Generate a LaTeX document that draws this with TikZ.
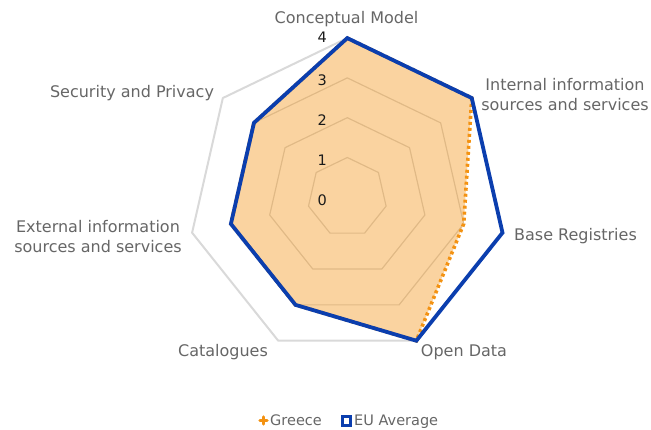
\documentclass[tikz,border=0pt]{standalone}
\usepackage{fontspec}
\setmainfont{DejaVu Sans}
\definecolor{catgray}{HTML}{666666}
\definecolor{tickc}{HTML}{1A1A1A}
\definecolor{gridc}{HTML}{D9D9D9}
\definecolor{gridin}{HTML}{D4D4D4}
\definecolor{eublue}{HTML}{0B3EAE}
\definecolor{grorange}{HTML}{F39212}
\begin{document}
\begin{tikzpicture}[x=1pt,y=1pt,
  cat/.style={text=catgray, font=\fontsize{16}{20}\selectfont, align=center, inner sep=0pt},
  ticklab/.style={text=tickc, font=\fontsize{14.5}{14.5}\selectfont, inner sep=0pt},
  legtext/.style={text=catgray, font=\fontsize{14.5}{14.5}\selectfont, inner sep=0pt, anchor=base west},
  gridline/.style={draw=gridin, line width=1.2pt, line join=round},
  gridouter/.style={draw=gridc, line width=2pt, line join=round},
  eu/.style={draw=eublue, line width=3.8pt, line join=miter},
  greece/.style={draw=grorange, line width=3.6pt, dash pattern=on 3pt off 3pt},
  greecefill/.style={fill=grorange, fill opacity=0.4}]
\useasboundingbox (0,0) rectangle (651,430);
\coordinate (O) at (347.3,232.7);
% grid coordinates
\foreach \l in {1,...,4}{
  \foreach \k in {0,...,6}{
    \coordinate (L\l-\k) at ([shift={(347.3,232.7)}]{90-\k*360/7}:{39.8*\l});
  }
}
% inner grid levels
\foreach \l in {1,2,3}{
  \draw[gridline] (L\l-0) -- (L\l-1) -- (L\l-2) -- (L\l-3) -- (L\l-4) -- (L\l-5) -- (L\l-6) -- cycle;
}
\draw[gridouter] (L4-0) -- (L4-1) -- (L4-2) -- (L4-3) -- (L4-4) -- (L4-5) -- (L4-6) -- cycle;
% data points
\foreach \k/\v in {0/4,1/4,2/4,3/4,4/3,5/3,6/3}{
  \coordinate (E\k) at ([shift={(347.3,232.7)}]{90-\k*360/7}:{39.8*\v});
}
\foreach \k/\v in {0/4,1/4,2/3,3/4,4/3,5/3,6/3}{
  \coordinate (G\k) at ([shift={(347.3,232.7)}]{90-\k*360/7}:{39.8*\v});
}
\fill[greecefill] (G0) -- (G1) -- (G2) -- (G3) -- (G4) -- (G5) -- (G6) -- cycle;
\draw[greece] (G0) -- (G1) -- (G2) -- (G3) -- (G4) -- (G5) -- (G6) -- cycle;
\draw[eu] (E0) -- (E1) -- (E2) -- (E3) -- (E4) -- (E5) -- (E6) -- cycle;
% tick labels
\node[ticklab] (t4) at (322.3,392.5) {4};
\node[ticklab] (t3) at (322.3,350) {3};
\node[ticklab] (t2) at (322.3,310) {2};
\node[ticklab] (t1) at (322.3,270) {1};
\node[ticklab] (t0) at (322.3,230) {0};
% category labels
\node[cat] (c0) at (346.5,410.5) {Conceptual Model};
\node[cat] (c1) at (565,335) {Internal information\\sources and services};
\node[cat] (c2) at (575.5,194) {Base Registries};
\node[cat] (c3) at (464,78) {Open Data};
\node[cat] (c4) at (223,78) {Catalogues};
\node[cat] (c5) at (98,193) {External information\\sources and services};
\node[cat] (c6) at (132,336.5) {Security and Privacy};
% legend
\coordinate (gm) at (263.5,9.5);
\draw[grorange, line width=3.5pt, line cap=round] ([xshift=-3.5pt]gm) -- ([xshift=3.5pt]gm);
\draw[grorange, line width=3.5pt, line cap=round] ([yshift=-3.5pt]gm) -- ([yshift=3.5pt]gm);
\node[legtext] (lg) at (270,4.5) {Greece};
\node[draw=eublue, fill=white, line width=3pt, minimum size=8.5pt, inner sep=0pt] (em) at (346.5,9) {};
\node[legtext] (le) at (354,4.5) {EU Average};
\end{tikzpicture}
\end{document}
